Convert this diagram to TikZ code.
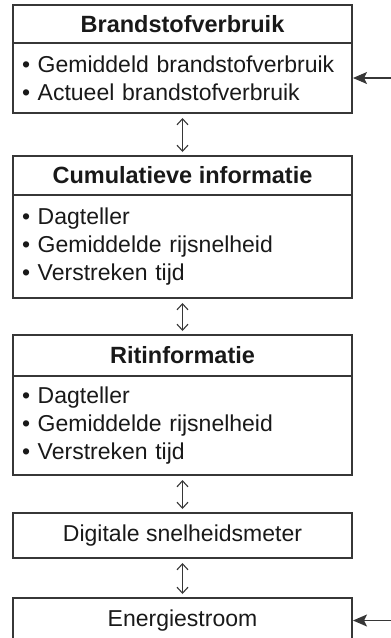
\documentclass[tikz,border=0pt]{standalone}
\usepackage{fontspec}
\setmainfont{Liberation Sans}
\usepackage{tikz}
\usetikzlibrary{arrows.meta, positioning}
\definecolor{boxline}{RGB}{55, 55, 55}
\definecolor{boxtext}{RGB}{25, 25, 25}
\tikzset{
    head/.style={rectangle, draw=boxline, minimum width=339pt,
                 minimum height=#1, inner sep=0pt, outer sep=0pt,
                 font=\fontsize{23.5}{28}\selectfont\bfseries,
                 text=boxtext, line width=1.1pt},
    body/.style={rectangle, draw=boxline, text width=321pt,
                 inner xsep=9pt, inner ysep=0pt, outer sep=0pt,
                 minimum height=#1, align=left,
                 font=\fontsize{23}{28}\selectfont,
                 text=boxtext, line width=1.1pt},
    single/.style={rectangle, draw=boxline, minimum width=339pt,
                   minimum height=45pt, inner sep=0pt, outer sep=0pt,
                   font=\fontsize{23}{28}\selectfont,
                   text=boxtext, line width=1.1pt},
}

\begin{document}
\begin{tikzpicture}[
    dblarr/.style={{Straight Barb[length=6pt,width=11pt]}-{Straight Barb[length=6pt,width=11pt]},
                   line width=1.1pt, color=boxline, shorten >=4pt, shorten <=5pt},
    inarr/.style={-{Stealth[length=14pt,width=12pt,inset=3pt]}, line width=1.1pt,
                  color=boxline, shorten >=1pt},
]
    \useasboundingbox (0,0) rectangle (391pt,-638pt);

    % Brandstofverbruik
    \node[head=38pt, anchor=north west] (b1head) at (13pt,-5pt) {Brandstofverbruik};
    \node[body=70pt, below=0pt of b1head] (b1body)
        {\textbullet\ Gemiddeld brandstofverbruik\\
         \textbullet\ Actueel brandstofverbruik};

    % Cumulatieve informatie
    \node[head=39pt, below=43pt of b1body] (b2head) {Cumulatieve informatie};
    \node[body=103pt, below=0pt of b2head] (b2body)
        {\textbullet\ Dagteller\\
         \textbullet\ Gemiddelde rijsnelheid\\
         \textbullet\ Verstreken tijd};

    % Ritinformatie
    \node[head=41pt, below=37pt of b2body] (b3head) {Ritinformatie};
    \node[body=99pt, below=0pt of b3head] (b3body)
        {\textbullet\ Dagteller\\
         \textbullet\ Gemiddelde rijsnelheid\\
         \textbullet\ Verstreken tijd};

    % Single boxes
    \node[single, below=38pt of b3body] (speedo) {Digitale snelheidsmeter};
    \node[single, below=40pt of speedo] (energy) {Energiestroom};

    % Links between boxes
    \draw[dblarr] (b1body.south) -- (b2head.north);
    \draw[dblarr] (b2body.south) -- (b3head.north);
    \draw[dblarr] (b3body.south) -- (speedo.north);
    \draw[dblarr] (speedo.south) -- (energy.north);

    % Inputs from the right
    \coordinate[right=39pt of b1body.east] (feed1);
    \coordinate[right=39pt of energy.east] (feed2);
    \draw[inarr] (feed1) -- (b1body.east);
    \draw[inarr] (feed2) -- (energy.east);
\end{tikzpicture}
\end{document}
